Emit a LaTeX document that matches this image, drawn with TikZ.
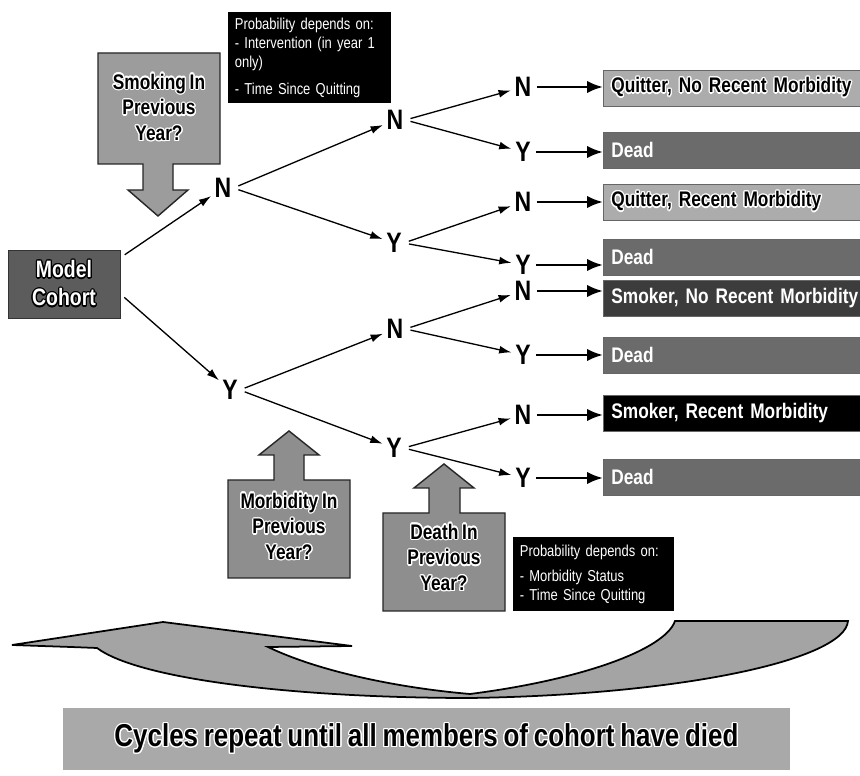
\documentclass[tikz,border=0pt]{standalone}
\usepackage{fontspec}
\newfontfamily\narrowsf[FakeStretch=0.82, WordSpace=0.8]{Liberation Sans}
\usepackage{contour}
\contourlength{0.7pt}
\usetikzlibrary{arrows.meta}

\definecolor{cohortfill}{HTML}{5C5C5C}
\definecolor{smokefill}{HTML}{9C9C9C}
\definecolor{morbfill}{HTML}{8E8E8E}
\definecolor{quitfill}{HTML}{ACACAC}
\definecolor{deadfill}{HTML}{6B6B6B}
\definecolor{smokerfill}{HTML}{3C3C3C}
\definecolor{cyclefill}{HTML}{A4A4A4}
\definecolor{bannerfill}{HTML}{A9A9A9}

\begin{document}
\begin{tikzpicture}[x=0.02cm, y=-0.02cm,
    letter/.style={font=\narrowsf\bfseries\fontsize{16}{16}\selectfont, inner sep=1pt},
    treearrow/.style={-{Latex[length=7pt,width=4.5pt]}, line width=0.75pt, shorten <=3pt, shorten >=1pt},
    outarrow/.style={-{Latex[length=9pt,width=7pt]}, line width=1.4pt, shorten <=2pt},
    outcome/.style={anchor=west, draw=black!60, minimum height=0.72cm, text width=5.6cm,
      inner xsep=0.16cm, inner ysep=0pt, align=left, font=\narrowsf\bfseries\fontsize{12}{12}\selectfont},
    bigarrow/.style={draw=black!85, line width=0.8pt},
    arrowtext/.style={align=center, font=\narrowsf\bfseries\fontsize{12}{14.7}\selectfont},
    probbox/.style={anchor=north west, fill=black, text=white, inner xsep=0.13cm, inner ysep=0pt,
      align=left, font=\narrowsf\fontsize{9}{10.8}\selectfont}]
  \fill[white] (0,0) rectangle (860,776);
  \useasboundingbox (0,0) rectangle (860,776);
  % Draw the question arrows
  \draw[bigarrow, fill=smokefill] (98,53) -- (220,53) -- (220,164) -- (173,164) -- (173,190) -- (188,190)
    -- (158,216) -- (128,190) -- (143,190) -- (143,164) -- (98,164) -- cycle;
  \draw[bigarrow, fill=morbfill] (228,578) -- (350,578) -- (350,480) -- (304,480) -- (304,455) -- (319,455)
    -- (289,431) -- (259,455) -- (274,455) -- (274,480) -- (228,480) -- cycle;
  \draw[bigarrow, fill=morbfill] (383,611) -- (505,611) -- (505,513) -- (460,513) -- (460,488) -- (474,488)
    -- (444,464) -- (414,488) -- (429,488) -- (429,513) -- (383,513) -- cycle;
  \node[arrowtext] (smoking) at (159,108) {\contour{white}{Smoking In}\\\contour{white}{Previous}\\\contour{white}{Year?}};
  \node[arrowtext] (morbidity) at (289,527) {\contour{white}{Morbidity In}\\\contour{white}{Previous}\\\contour{white}{Year?}};
  \node[arrowtext] (death) at (444,558) {\contour{white}{Death In}\\\contour{white}{Previous}\\\contour{white}{Year?}};
  % Draw the probability notes
  \node[probbox, text width=3.0cm, minimum height=1.82cm] (probtop) at (228,12)
    {Probability depends on:\\- Intervention (in year 1\\only)\\[4.5pt]- Time Since Quitting};
  \node[probbox, text width=2.96cm, minimum height=1.48cm] (probbottom) at (513,537)
    {Probability depends on:\\[3.2pt]- Morbidity Status\\- Time Since Quitting};
  % Draw the cohort and the tree
  \node[fill=cohortfill, draw=black!80, text=white, align=center, minimum width=2.24cm, minimum height=1.36cm,
    inner sep=0pt, font=\narrowsf\bfseries\fontsize{13.5}{16}\selectfont] (cohort) at (64,284)
    {\contour{black}{Model}\\\contour{black}{Cohort}};
  \node[letter] (N) at (223,188) {N};
  \node[letter] (Y) at (230,390) {Y};
  \node[letter] (NN) at (395,120) {N};
  \node[letter] (NY) at (394,243) {Y};
  \node[letter] (YN) at (395,329) {N};
  \node[letter] (YY) at (394,448) {Y};
  \node[letter] (NNN) at (523,87) {N};
  \node[letter] (NNY) at (523,152) {Y};
  \node[letter] (NYN) at (523,202) {N};
  \node[letter] (NYY) at (523,265) {Y};
  \node[letter] (YNN) at (523,291) {N};
  \node[letter] (YNY) at (523,355) {Y};
  \node[letter] (YYN) at (523,415) {N};
  \node[letter] (YYY) at (523,478) {Y};
  \draw[treearrow] (cohort.25) -- (N);
  \draw[treearrow] (cohort.-10) -- (Y);
  \draw[treearrow] (N.east) -- (NN);
  \draw[treearrow] (N.east) -- (NY);
  \draw[treearrow] (Y.east) -- (YN);
  \draw[treearrow] (Y.east) -- (YY);
  \draw[treearrow] (NN.east) -- (NNN);
  \draw[treearrow] (NN.east) -- (NNY);
  \draw[treearrow] (NY.east) -- (NYN);
  \draw[treearrow] (NY.east) -- (NYY);
  \draw[treearrow] (YN.east) -- (YNN);
  \draw[treearrow] (YN.east) -- (YNY);
  \draw[treearrow] (YY.east) -- (YYN);
  \draw[treearrow] (YY.east) -- (YYY);
  % Draw the outcomes
  \node[outcome, fill=quitfill] (out1) at (603,88) {\contour{white}{Quitter, No Recent Morbidity}};
  \node[outcome, fill=deadfill, text=white] (out2) at (603,150) {Dead};
  \node[outcome, fill=quitfill] (out3) at (603,202) {\contour{white}{Quitter, Recent Morbidity}};
  \node[outcome, fill=deadfill, text=white] (out4) at (603,257) {Dead};
  \node[outcome, fill=smokerfill, text=white] (out5) at (603,298) {Smoker, No Recent Morbidity};
  \node[outcome, fill=deadfill, text=white] (out6) at (603,355) {Dead};
  \node[outcome, fill=black, text=white] (out7) at (603,413) {Smoker, Recent Morbidity};
  \node[outcome, fill=deadfill, text=white] (out8) at (603,477) {Dead};
  \draw[outarrow] (NNN) -- (NNN -| out1.west);
  \draw[outarrow] (NNY) -- (NNY -| out2.west);
  \draw[outarrow] (NYN) -- (NYN -| out3.west);
  \draw[outarrow] (NYY) -- (NYY -| out4.west);
  \draw[outarrow] (YNN) -- (YNN -| out5.west);
  \draw[outarrow] (YNY) -- (YNY -| out6.west);
  \draw[outarrow] (YYN) -- (YYN -| out7.west);
  \draw[outarrow] (YYY) -- (YYY -| out8.west);
  % Draw the cycle arrow and the banner
  \draw[fill=cyclefill, draw=black, line width=1pt] (848,621) .. controls (845,660) and (680,695) .. (470,698)
    .. controls (300,698) and (140,680) .. (97,648) -- (71,647) -- (12,645) -- (163,622) -- (352,646) -- (268,647)
    .. controls (320,672) and (400,688) .. (470,694) .. controls (580,680) and (665,650) .. (675,621) -- cycle;
  \node[fill=bannerfill, minimum width=14.54cm, minimum height=1.24cm, inner sep=0pt,
    font=\narrowsf\bfseries\fontsize{18}{18}\selectfont] (banner) at (426.5,739)
    {\contour{white}{Cycles repeat until all members of cohort have died}};
\end{tikzpicture}
\end{document}
